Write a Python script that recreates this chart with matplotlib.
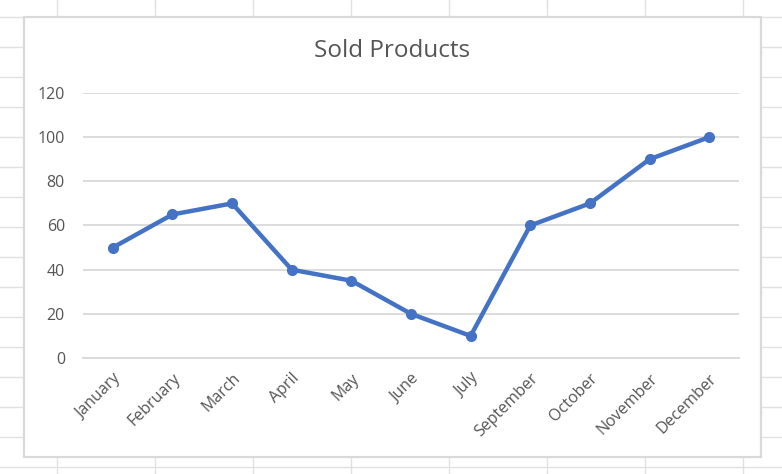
import matplotlib
matplotlib.use("Agg")
import matplotlib.pyplot as plt
from matplotlib.lines import Line2D
from matplotlib.patches import Rectangle

months = ["January", "February", "March", "April", "May", "June", "July",
          "September", "October", "November", "December"]
sold = [50, 65, 70, 40, 35, 20, 10, 60, 70, 90, 100]
yticks = [0, 20, 40, 60, 80, 100, 120]
title = "Sold Products"

W, H = 782, 474
fig = plt.figure(figsize=(W / 100, H / 100), dpi=100)
fig.patch.set_facecolor("white")

def fx(px):
    return px / W

def fy(py):
    return 1 - py / H

# spreadsheet cell grid in the background
for x in range(57, W, 98):
    fig.add_artist(Line2D([fx(x), fx(x)], [0, 1], color="#e1e1e1", lw=1, zorder=0))
for y in range(17, H, 30):
    fig.add_artist(Line2D([0, 1], [fy(y), fy(y)], color="#e1e1e1", lw=1, zorder=0))

# chart frame
fig.add_artist(Rectangle((fx(24), fy(457)), fx(761) - fx(24), fy(17) - fy(457),
                         facecolor="white", edgecolor="#d9d9d9", lw=1.6, zorder=1))

font = "Open Sans"
ax = fig.add_axes([fx(83), fy(358), fx(739) - fx(83), fy(93) - fy(358)], zorder=2)
ax.set_facecolor("none")
x = list(range(len(months)))
ax.plot(x, sold, color="#4472C4", lw=3.2, marker="o", ms=7, solid_capstyle="round",
        solid_joinstyle="round", zorder=3)
ax.set_xlim(-0.5, len(months) - 0.5)
ax.set_ylim(0, 120)
ax.set_yticks(yticks)
ax.set_yticklabels([str(v) for v in yticks], fontsize=11.5, color="#555555", family=font)
ax.grid(axis="y", color="#d9d9d9", lw=1.3)
ax.set_axisbelow(True)
ax.set_xticks(x)
ax.set_xticklabels(months, rotation=45, ha="right", rotation_mode="anchor",
                   fontsize=11.5, color="#555555", family=font)
ax.tick_params(axis="both", length=0)
ax.tick_params(axis="y", pad=13)
ax.tick_params(axis="x", pad=9)
for s in ax.spines.values():
    s.set_visible(False)
ax.spines["bottom"].set_visible(True)
ax.spines["bottom"].set_color("#d9d9d9")
ax.spines["bottom"].set_linewidth(1.3)

fig.text(fx(392), fy(51), title, ha="center", va="center", fontsize=17.5,
         color="#555555", family=font, zorder=3)

fig.savefig("out.png", dpi=100)
